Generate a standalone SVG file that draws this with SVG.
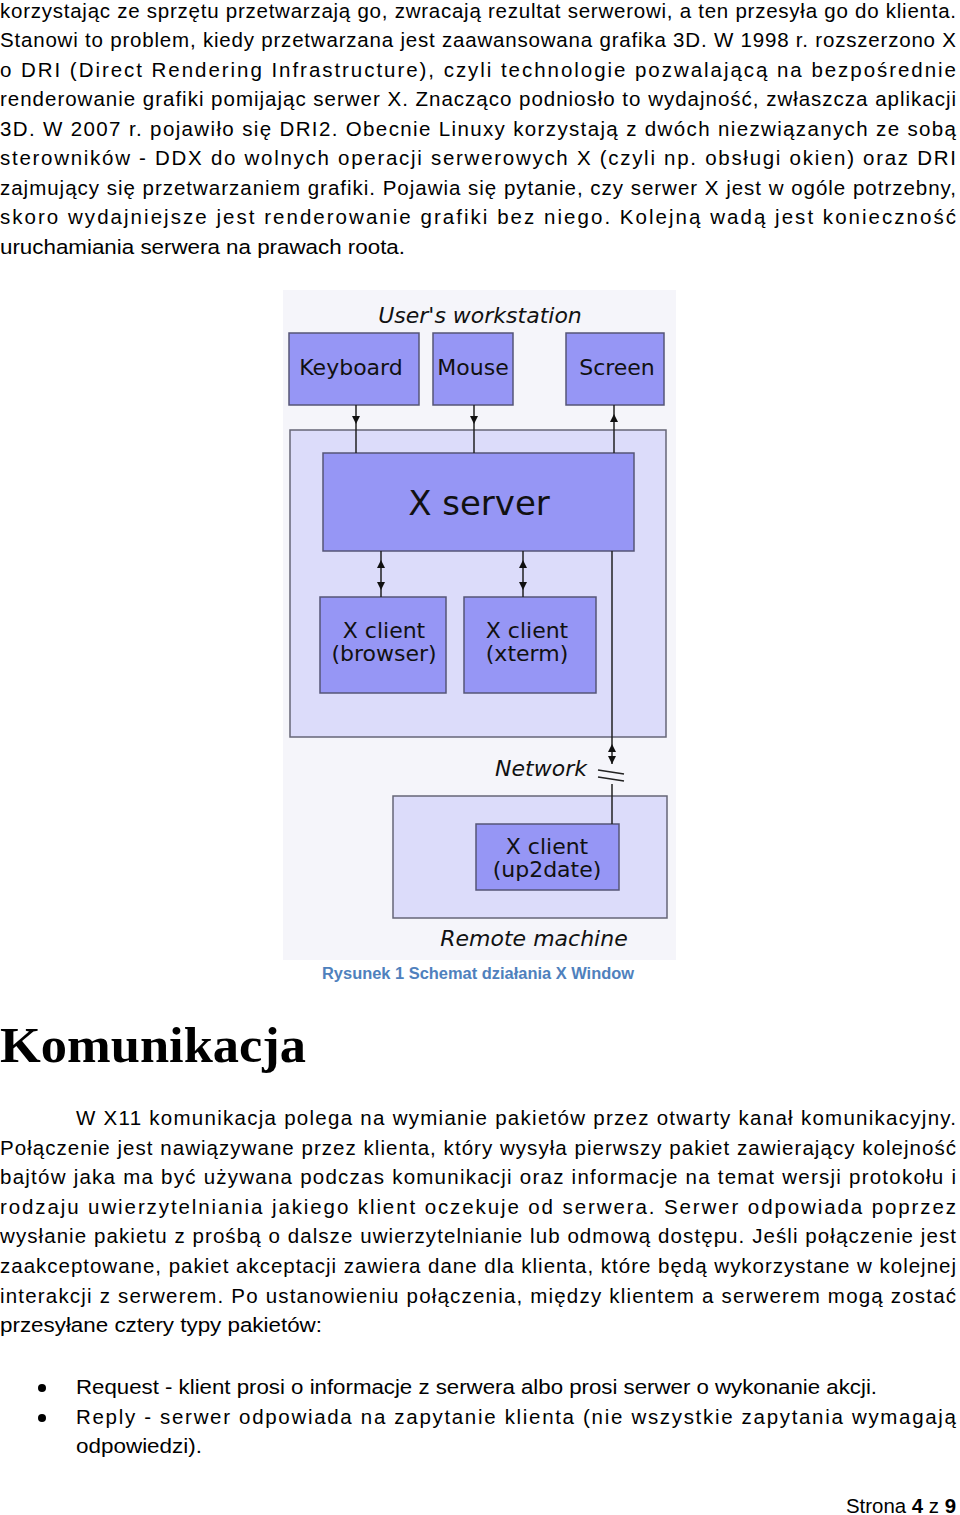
<svg xmlns="http://www.w3.org/2000/svg" width="960" height="1515" viewBox="0 0 960 1515">
<style>
.t{font-family:"Liberation Sans",Arial,sans-serif;font-size:20.5px;fill:#000}
.d{font-family:"DejaVu Sans",Verdana,sans-serif;fill:#111}
.box{fill:#9696f5;stroke:#555577;stroke-width:1.5}
.outer{fill:#dcdcfa;stroke:#666677;stroke-width:1.5}
.ln{stroke:#222;stroke-width:1.5;fill:none}
</style>
<rect width="960" height="1515" fill="#fff"/>
<g id="text-top" class="t">
<text x="0" y="18" textLength="956" lengthAdjust="spacing">korzystając ze sprzętu przetwarzają go, zwracają rezultat serwerowi, a ten przesyła go do klienta.</text>
<text x="0" y="47" textLength="956" lengthAdjust="spacing">Stanowi to problem, kiedy przetwarzana jest zaawansowana grafika 3D. W 1998 r. rozszerzono X</text>
<text x="0" y="77" textLength="956" lengthAdjust="spacing">o DRI (Direct Rendering Infrastructure), czyli technologie pozwalającą na bezpośrednie</text>
<text x="0" y="106" textLength="956" lengthAdjust="spacing">renderowanie grafiki pomijając serwer X. Znacząco podniosło to wydajność, zwłaszcza aplikacji</text>
<text x="0" y="136" textLength="956" lengthAdjust="spacing">3D. W 2007 r. pojawiło się DRI2. Obecnie Linuxy korzystają z dwóch niezwiązanych ze sobą</text>
<text x="0" y="165" textLength="956" lengthAdjust="spacing">sterowników - DDX do wolnych operacji serwerowych X (czyli np. obsługi okien) oraz DRI</text>
<text x="0" y="195" textLength="956" lengthAdjust="spacing">zajmujący się przetwarzaniem grafiki. Pojawia się pytanie, czy serwer X jest w ogóle potrzebny,</text>
<text x="0" y="224" textLength="956" lengthAdjust="spacing">skoro wydajniejsze jest renderowanie grafiki bez niego. Kolejną wadą jest konieczność</text>
<text x="0" y="254" textLength="405" lengthAdjust="spacingAndGlyphs">uruchamiania serwera na prawach roota.</text>
</g>
<rect x="283" y="290" width="393" height="670" fill="#f5f5fa"/>
<g id="ws-label"><text class="d" x="480" y="323" font-size="22" font-style="italic" text-anchor="middle">User's workstation</text></g>
<g id="workstation"><rect class="outer" x="290" y="430" width="376" height="307"/></g>
<g id="remote"><rect class="outer" x="393" y="796" width="274" height="122"/></g>
<g id="keyboard"><rect class="box" x="289" y="333" width="130" height="72"/><text class="d" x="351" y="375" font-size="22" text-anchor="middle">Keyboard</text></g>
<g id="mouse"><rect class="box" x="433" y="333" width="80" height="72"/><text class="d" x="473" y="375" font-size="22" text-anchor="middle">Mouse</text></g>
<g id="screen"><rect class="box" x="566" y="333" width="98" height="72"/><text class="d" x="617" y="375" font-size="22" text-anchor="middle">Screen</text></g>
<g id="xserver"><rect class="box" x="323" y="453" width="311" height="98"/><text class="d" x="479" y="515" font-size="34" text-anchor="middle">X server</text></g>
<g id="xbrowser"><rect class="box" x="320" y="597" width="126" height="96"/><text class="d" x="384" y="638" font-size="22" text-anchor="middle">X client</text><text class="d" x="384" y="661" font-size="22" text-anchor="middle">(browser)</text></g>
<g id="xterm"><rect class="box" x="464" y="597" width="132" height="96"/><text class="d" x="527" y="638" font-size="22" text-anchor="middle">X client</text><text class="d" x="527" y="661" font-size="22" text-anchor="middle">(xterm)</text></g>
<g id="xup2date"><rect class="box" x="476" y="824" width="143" height="66"/><text class="d" x="547" y="854" font-size="22" text-anchor="middle">X client</text><text class="d" x="547" y="877" font-size="22" text-anchor="middle">(up2date)</text></g>
<g id="net-label"><text class="d" x="541" y="776" font-size="22" font-style="italic" text-anchor="middle">Network</text></g>
<g id="rm-label"><text class="d" x="534" y="946" font-size="22" font-style="italic" text-anchor="middle">Remote machine</text></g>
<g id="connectors">
<line class="ln" x1="356" y1="405" x2="356" y2="453"/><path d="M352,416 L360,416 L356,424 z" fill="#111"/>
<line class="ln" x1="474" y1="405" x2="474" y2="453"/><path d="M470,416 L478,416 L474,424 z" fill="#111"/>
<line class="ln" x1="614" y1="405" x2="614" y2="453"/><path d="M610,422 L618,422 L614,414 z" fill="#111"/>
<line class="ln" x1="381" y1="551" x2="381" y2="597"/><path d="M377,568 L385,568 L381,560 z M377,582 L385,582 L381,590 z" fill="#111"/>
<line class="ln" x1="523" y1="551" x2="523" y2="597"/><path d="M519,568 L527,568 L523,560 z M519,582 L527,582 L523,590 z" fill="#111"/>
<line class="ln" x1="612" y1="551" x2="612" y2="764"/>
<path d="M608,752 L616,752 L612,744 z M608,756 L616,756 L612,764 z" fill="#111"/>
<line class="ln" x1="598" y1="770" x2="624" y2="774"/><line class="ln" x1="598" y1="777" x2="624" y2="781"/>
<line class="ln" x1="612" y1="784" x2="612" y2="824"/>
</g>
<text x="478" y="979" font-family="Liberation Sans,Arial,sans-serif" font-size="16" font-weight="bold" fill="#4f81bd" text-anchor="middle" textLength="312" lengthAdjust="spacingAndGlyphs">Rysunek 1 Schemat działania X Window</text>
<text x="0" y="1062" font-family="Liberation Serif,Times New Roman,serif" font-size="50" font-weight="bold" textLength="306" lengthAdjust="spacingAndGlyphs">Komunikacja</text>
<g id="text-bottom" class="t">
<text x="76" y="1125" textLength="880" lengthAdjust="spacing">W X11 komunikacja polega na wymianie pakietów przez otwarty kanał komunikacyjny.</text>
<text x="0" y="1155" textLength="956" lengthAdjust="spacing">Połączenie jest nawiązywane przez klienta, który wysyła pierwszy pakiet zawierający kolejność</text>
<text x="0" y="1184" textLength="956" lengthAdjust="spacing">bajtów jaka ma być używana podczas komunikacji oraz informacje na temat wersji protokołu i</text>
<text x="0" y="1214" textLength="956" lengthAdjust="spacing">rodzaju uwierzytelniania jakiego klient oczekuje od serwera. Serwer odpowiada  poprzez</text>
<text x="0" y="1243" textLength="956" lengthAdjust="spacing">wysłanie pakietu z prośbą o dalsze uwierzytelnianie lub odmową dostępu. Jeśli połączenie jest</text>
<text x="0" y="1273" textLength="956" lengthAdjust="spacing">zaakceptowane, pakiet akceptacji zawiera dane dla klienta, które będą wykorzystane w kolejnej</text>
<text x="0" y="1303" textLength="956" lengthAdjust="spacing">interakcji z serwerem. Po ustanowieniu połączenia, między klientem a serwerem mogą zostać</text>
<text x="0" y="1332" textLength="322" lengthAdjust="spacingAndGlyphs">przesyłane cztery typy pakietów:</text>
<circle cx="42" cy="1388" r="4" fill="#000"/>
<text x="76" y="1394" textLength="801" lengthAdjust="spacingAndGlyphs">Request - klient prosi o informacje z serwera albo prosi serwer o wykonanie akcji.</text>
<circle cx="42" cy="1418" r="4" fill="#000"/>
<text x="76" y="1424" textLength="880" lengthAdjust="spacing">Reply - serwer odpowiada na zapytanie klienta (nie wszystkie zapytania wymagają</text>
<text x="76" y="1453" textLength="126" lengthAdjust="spacingAndGlyphs">odpowiedzi).</text>
<text x="846" y="1513" textLength="110" lengthAdjust="spacingAndGlyphs">Strona <tspan font-weight="bold">4</tspan> z <tspan font-weight="bold">9</tspan></text>
</g>
</svg>
